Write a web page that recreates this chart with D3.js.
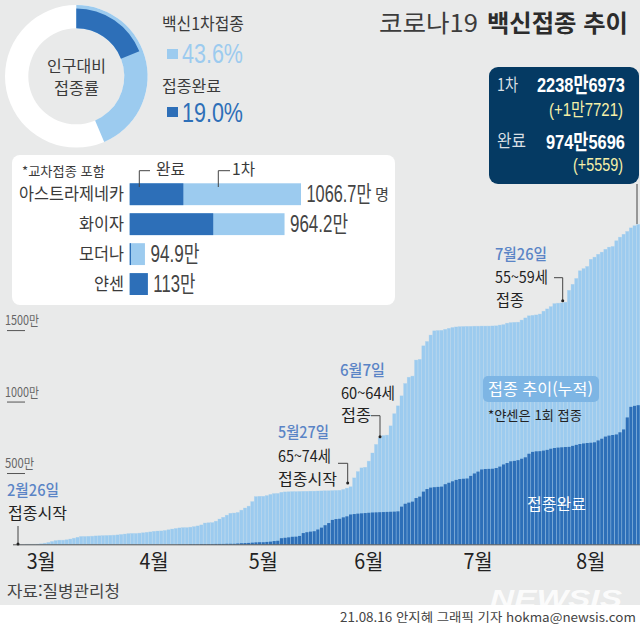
<!DOCTYPE html>
<html lang="ko">
<head>
<meta charset="utf-8">
<script src="https://cdn.jsdelivr.net/npm/d3@7"></script>
<style>
  html, body { margin: 0; padding: 0; background: #fff; }
  svg { display: block; }
  text { font-family: "Noto Sans CJK KR", "Noto Sans", sans-serif; }
  text.num { font-family: "Liberation Sans", "Noto Sans CJK KR", sans-serif; }
</style>
</head>
<body>
<svg id="chart" width="640" height="628"></svg>
<script>
const BG = "#e9eaea";
const LIGHT = "#9ccbef";
const DARK = "#2d6fb8";
const INK = "#3a3a3a";
const DATE_BLUE = "#5a84c6";

// cumulative doses by day, in units of 10,000 people, 2021-02-26 to 2021-08-15
const firstDose = [
  1, 1, 2, 2, 2, 3, 5, 9, 14, 21, 27, 30, 30, 33, 38, 44, 50, 56, 56, 57,
  58, 60, 61, 62, 63, 64, 65, 67, 70, 73, 76, 77, 77, 79, 82, 85, 88, 92, 94, 95,
  98, 103, 108, 112, 116, 118, 118, 121, 125, 130, 137, 150, 152, 153, 163, 178, 190, 205, 218, 220,
  224, 240, 255, 268, 300, 335, 337, 337, 342, 350, 356, 357, 365, 368, 369, 370, 370, 371, 372, 372,
  373, 373, 374, 375, 376, 376, 377, 378, 379, 385, 394, 404, 466, 510, 536, 540, 583, 640, 700, 745,
  762, 765, 830, 915, 970, 1040, 1126, 1170, 1178, 1290, 1295, 1390, 1420, 1465, 1495, 1497, 1498, 1505, 1512, 1518,
  1522, 1524, 1525, 1526, 1526, 1527, 1527, 1528, 1528, 1528, 1529, 1530, 1535, 1538, 1548, 1552, 1554, 1555, 1570, 1585,
  1600, 1603, 1606, 1612, 1632, 1648, 1664, 1685, 1688, 1690, 1695, 1778, 1820, 1861, 1915, 1930, 1945, 1995, 2010, 2030,
  2045, 2065, 2080, 2085, 2125, 2150, 2170, 2190, 2215, 2230, 2238.7,
];
const secondDose = [
  0, 0, 0, 0, 0, 0, 0, 0, 0, 0, 0, 0, 0, 0, 0, 0, 0, 0, 0, 0,
  0, 0, 0, 0, 0, 0, 0, 0, 0, 0, 0, 0, 0, 0, 0, 0, 0, 0, 0, 0,
  0, 0, 0, 0, 1, 1, 1, 2, 2, 2, 3, 3, 3, 3, 4, 4, 4, 5, 5, 5,
  7, 9, 10, 11, 13, 15, 16, 16, 18, 20, 24, 26, 44, 47, 50, 54, 55, 60, 80, 86,
  90, 93, 105, 118, 135, 150, 172, 178, 180, 190, 197, 210, 213, 216, 218, 220, 222, 224, 225, 226,
  227, 228, 229, 230, 232, 265, 285, 293, 300, 325, 335, 370, 388, 398, 401, 403, 405, 422, 432, 442,
  452, 458, 460, 462, 480, 497, 510, 525, 528, 529, 530, 535, 545, 560, 570, 582, 585, 590, 600, 610,
  635, 648, 652, 653, 657, 662, 670, 675, 678, 680, 682, 683, 690, 697, 703, 707, 710, 712, 715, 728,
  740, 755, 762, 766, 770, 785, 805, 889, 963, 970, 974.6,
];
const monthLabelDays = ["2021-03-04", "2021-04-04", "2021-05-04", "2021-06-02", "2021-07-02", "2021-08-02"];
const yTicks = [500, 1000, 1500];

// population share donut
const donutShares = [19.0, 24.6, 56.4];

// vaccine makers, 10,000 people
const vaccines = ["아스트라제네카", "화이자", "모더나", "얀센"];
const vaccineFirst = [1066.7, 964.2, 94.9, 113];
const vaccineComplete = [334, 520, 8, 113];
const vaccineLabels = ["1066.7만", "964.2만", "94.9만", "113만"];
const vaccineLabelWidths = [65, 58, 49, 42];

const svg = d3.select("#chart");

// squeeze a text sideways to a measured width, keeping its anchor point in place
const squeeze = (el, width) => {
  const k = width / el.getComputedTextLength();
  const x0 = +el.getAttribute("x") || 0;
  el.setAttribute("transform", `translate(${x0 * (1 - k)},0) scale(${k},1)`);
};

const label = (parent, str, x, y, size, fill, width, opts = {}) => {
  const t = parent.append("text")
    .attr("class", opts.num ? "num" : null)
    .attr("x", x).attr("y", y).attr("dy", "0.36em")
    .attr("font-size", size).attr("fill", fill)
    .attr("font-weight", opts.weight || 400)
    .attr("text-anchor", opts.anchor || "start")
    .text(str);
  if (width) squeeze(t.node(), width);
  return t;
};

svg.append("rect").attr("width", 640).attr("height", 605).attr("fill", BG);
svg.append("rect").attr("y", 605).attr("width", 640).attr("height", 23).attr("fill", "#fff");

// ---- main bars
const days = d3.timeDay.range(new Date(2021, 1, 26), new Date(2021, 7, 16));
const parseDay = d3.timeParse("%Y-%m-%d");
const x = d3.scaleBand().domain(days).range([17.5, 640]).paddingInner(0.14).paddingOuter(0.07);
const y = d3.scaleLinear().domain([0, 2238.7]).range([544.5, 224.5]);

const barsGroup = svg.append("g");
barsGroup.selectAll("rect.first").data(days).join("rect")
  .attr("class", "first")
  .attr("x", (d) => x(d)).attr("width", x.bandwidth())
  .attr("y", (d, i) => y(firstDose[i]))
  .attr("height", (d, i) => y(0) - y(firstDose[i]))
  .attr("fill", LIGHT)
  .attr("stroke", LIGHT).attr("stroke-opacity", 0.45).attr("stroke-width", 0.6);
barsGroup.selectAll("rect.second").data(days).join("rect")
  .attr("class", "second")
  .attr("x", (d) => x(d)).attr("width", x.bandwidth())
  .attr("y", (d, i) => y(secondDose[i]))
  .attr("height", (d, i) => y(0) - y(secondDose[i]))
  .attr("fill", DARK);

// x axis
svg.append("line").attr("x1", 13).attr("x2", 640).attr("y1", 544.8).attr("y2", 544.8)
  .attr("stroke", "#555").attr("stroke-width", 1);
const xAxis = svg.append("g").attr("transform", "translate(0,545)")
  .call(d3.axisBottom(x)
    .tickValues(monthLabelDays.map((s) => days.find((d) => +d === +parseDay(s))))
    .tickSize(0).tickPadding(0)
    .tickFormat((d) => `${d.getMonth() + 1}월`));
xAxis.select(".domain").remove();
xAxis.selectAll("text")
  .attr("y", 16).attr("dy", "0.36em")
  .attr("font-size", 21).attr("fill", "#222").attr("font-family", null)
  .each(function () { squeeze(this, 29); });

// y ticks sit under their labels, at the left edge
const yAxis = svg.append("g").attr("transform", "translate(7,0)")
  .call(d3.axisRight(y).tickValues(yTicks).tickSize(18).tickPadding(0)
    .tickFormat((d) => `${d}만`));
yAxis.select(".domain").remove();
yAxis.selectAll("line").attr("stroke", "#555");
yAxis.selectAll("text")
  .attr("x", -2).attr("dy", "-0.4em").attr("text-anchor", "start")
  .attr("font-size", 13).attr("fill", "#666").attr("font-family", null)
  .each(function (d) { squeeze(this, d < 1000 ? 29 : 34); });

// ---- donut
const pie = d3.pie().sort(null)(donutShares);
const donut = svg.append("g").attr("transform", "translate(76.3,76.3)");
const lightArc = d3.arc().innerRadius(48).outerRadius(71.3);
const darkArc = d3.arc().innerRadius(48).outerRadius(67.8);
donut.append("path").attr("fill", "#fff")
  .attr("d", lightArc({ startAngle: 0, endAngle: 2 * Math.PI }));
donut.append("path").attr("fill", LIGHT)
  .attr("d", lightArc({ startAngle: 0, endAngle: pie[1].endAngle }));
donut.append("path").attr("fill", DARK).attr("d", darkArc(pie[0]));
label(svg, "인구대비", 47, 66, 15.5, INK, 59);
label(svg, "접종률", 54, 88, 15.5, INK, 45);

label(svg, "백신1차접종", 162, 24, 17, INK, 82);
svg.append("rect").attr("x", 167).attr("y", 49).attr("width", 11).attr("height", 10).attr("fill", LIGHT);
label(svg, "43.6%", 182, 53, 27, LIGHT, 61, { num: true });
label(svg, "접종완료", 162, 86, 15.5, INK, 59);
svg.append("rect").attr("x", 167).attr("y", 107).attr("width", 11).attr("height", 10).attr("fill", DARK);
label(svg, "19.0%", 182, 112, 27, DARK, 61, { num: true });

// ---- title
label(svg, "코로나19", 379, 23, 24, "#3c3c3c", 99);
label(svg, "백신접종 추이", 487, 23, 24, "#2c2c2c", 141, { weight: 700 });

// ---- vaccine panel
svg.append("rect").attr("x", 12).attr("y", 155).attr("width", 383).attr("height", 150)
  .attr("rx", 8).attr("fill", "#fff");
label(svg, "*교차접종 포함", 22, 171, 13, INK, 83);

const vx = d3.scaleLinear().domain([0, 1066.7]).range([129.7, 301]);
const vy = d3.scaleBand().domain(vaccines).range([183.3, 295]).paddingInner(0.27);
const panel = svg.append("g");
panel.selectAll("rect.v1").data(vaccines).join("rect")
  .attr("class", "v1")
  .attr("x", vx(0)).attr("y", (d) => vy(d))
  .attr("width", (d, i) => vx(vaccineFirst[i]) - vx(0)).attr("height", vy.bandwidth())
  .attr("fill", LIGHT);
panel.selectAll("rect.v2").data(vaccines).join("rect")
  .attr("class", "v2")
  .attr("x", vx(0)).attr("y", (d) => vy(d))
  .attr("width", (d, i) => vx(vaccineComplete[i]) - vx(0)).attr("height", vy.bandwidth())
  .attr("fill", DARK);
vaccines.forEach((v, i) => {
  const cy = vy(v) + vy.bandwidth() / 2;
  label(panel, v, 124, cy, 17, INK, v.length * 15, { anchor: "end" });
  label(panel, vaccineLabels[i], vx(vaccineFirst[i]) + 5.5, cy, 23, "#444", vaccineLabelWidths[i], { num: true });
});
label(panel, "명", 375, vy(vaccines[0]) + vy.bandwidth() / 2, 15, "#444", 14);

const leader = (points, dot) => {
  svg.append("path").attr("d", d3.line()(points))
    .attr("fill", "none").attr("stroke", "#444").attr("stroke-width", 1);
  if (dot) {
    const end = points[points.length - 1];
    svg.append("circle").attr("cx", end[0]).attr("cy", end[1]).attr("r", 1.5).attr("fill", "#222");
  }
};
label(svg, "완료", 156, 169, 16, INK, 29);
leader([[150, 170.7], [139.3, 170.7], [139.3, 187]]);
label(svg, "1차", 232, 169, 16, INK, 23);
leader([[230, 170.7], [218.3, 170.7], [218.3, 187]]);

// ---- callout box
svg.append("rect").attr("x", 489).attr("y", 67).attr("width", 150).attr("height", 117)
  .attr("rx", 9).attr("fill", "#053a63");
leader([[637, 184], [637, 224]]);
label(svg, "1차", 497, 85, 17, "#d9dfe3", 21);
label(svg, "2238만6973", 537, 84, 21, "#fff", 88, { weight: 700, num: true });
label(svg, "(+1만7721)", 549, 110, 18, "#f6f0a8", 74, { num: true });
label(svg, "완료", 497, 141, 17, "#d9dfe3", 29);
label(svg, "974만5696", 546, 141, 21, "#fff", 79, { weight: 700, num: true });
label(svg, "(+5559)", 573, 165, 18, "#f6f0a8", 50, { num: true });

// ---- annotations
const notes = svg.append("g");
label(notes, "2월26일", 7, 490.3, 16, DATE_BLUE, 52, { weight: 500 });
label(notes, "접종시작", 8, 513.3, 15.5, "#222", 59);
leader([[18, 526], [18, 544]], true);

label(notes, "5월27일", 278, 432.7, 16, DATE_BLUE, 51, { weight: 500 });
label(notes, "65~74세", 278, 456, 15.5, "#222", 53);
label(notes, "접종시작", 278, 479, 15.5, "#222", 59);
leader([[338, 463.3], [347.7, 463.3], [347.7, 483]], true);

label(notes, "6월7일", 340, 370, 16, DATE_BLUE, 45, { weight: 500 });
label(notes, "60~64세", 341, 393, 15.5, "#222", 54);
label(notes, "접종", 341, 415.5, 15.5, "#222", 30);
leader([[371, 415.7], [380, 415.7], [380, 436.7]], true);

label(notes, "7월26일", 495, 254, 16, DATE_BLUE, 52, { weight: 500 });
label(notes, "55~59세", 495, 277, 15.5, "#222", 53);
label(notes, "접종", 496, 300, 15.5, "#222", 28);
leader([[554, 277.7], [562.7, 277.7], [562.7, 300.7]], true);

svg.append("rect").attr("x", 483).attr("y", 376).attr("width", 116).attr("height", 26)
  .attr("rx", 5).attr("fill", "#7db5e4");
label(svg, "접종 추이(누적)", 488, 389.5, 16, "#fff", 105);
label(svg, "*얀센은 1회 접종", 488, 415, 13, "#222", 94);
label(svg, "접종완료", 527, 504, 16, "#fff", 59);

// ---- source and credits
label(svg, "자료:질병관리청", 7, 591, 16, "#444", 113);
label(svg, "21.08.16 안지혜 그래픽 기자 hokma@newsis.com", 340, 618, 12.5, "#444", 296);
label(svg, "NEWSIS", 490, 598, 24, "#fff", 132, { weight: 700, num: true })
  .attr("font-style", "italic").attr("opacity", 0.85);
</script>
</body>
</html>
